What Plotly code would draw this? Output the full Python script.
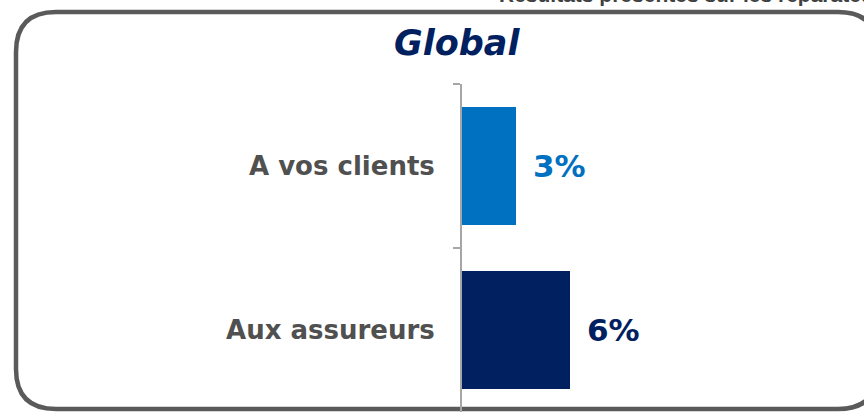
import plotly.graph_objects as go

categories = ["A vos clients", "Aux assureurs"]
values = [3, 6]
bar_colors = ["#0070C0", "#002060"]
value_labels = ["3%", "6%"]
title_text = "Global"
header_text = "Résultats présentés sur les réparateurs"

W, H = 864, 413
# plot area, window pixels
L, R, T, B = 462, 822, 84, 412


def px(x):
    return (x - L) / (R - L)


def py(y):
    return (B - y) / (B - T)


fig = go.Figure()
fig.add_trace(go.Bar(
    y=categories, x=values, orientation="h",
    marker=dict(color=bar_colors, line=dict(width=0)),
    hoverinfo="skip",
))

# value labels to the right of the bars
for cat, v, lab, col in zip(categories, values, value_labels, bar_colors):
    fig.add_annotation(x=v, y=cat, xref="x", yref="y", text=lab, showarrow=False,
                       xanchor="left", yanchor="middle", xshift=15,
                       font=dict(family="DejaVu Sans", size=31, color=col, weight="bold"))

# rounded frame; its right side lies just past the page edge
x0, x1, y0, y1, r = 16, 878, 12, 409, 40
path = (f"M {px(x1)},{py(y0 + r)} Q {px(x1)},{py(y0)} {px(x1 - r)},{py(y0)} "
        f"L {px(x0 + r)},{py(y0)} Q {px(x0)},{py(y0)} {px(x0)},{py(y0 + r)} "
        f"L {px(x0)},{py(y1 - r)} Q {px(x0)},{py(y1)} {px(x0 + r)},{py(y1)} "
        f"L {px(x1 - r)},{py(y1)} Q {px(x1)},{py(y1)} {px(x1)},{py(y1 - r)}")
fig.add_shape(type="path", path=path, xref="paper", yref="paper",
              line=dict(color="#5a5a5a", width=4.5), layer="below")

fig.add_annotation(x=px(457), y=py(43), xref="paper", yref="paper", text=f"<i>{title_text}</i>",
                   showarrow=False, xanchor="center", yanchor="middle",
                   font=dict(family="DejaVu Sans", size=35, color="#002060", weight="bold"))

# header line, only its lower half shows at the top of the page
fig.add_annotation(x=px(497), y=py(8), xref="paper", yref="paper", text=header_text,
                   showarrow=False, xanchor="left", yanchor="bottom",
                   font=dict(family="Liberation Sans", size=21, color="#404040", weight="bold"))

fig.update_layout(
    width=W, height=H,
    margin=dict(l=L, r=W - R, t=T, b=H - B),
    paper_bgcolor="white", plot_bgcolor="white",
    bargap=0.28, showlegend=False,
)
fig.update_xaxes(range=[0, 20], visible=False)
fig.update_yaxes(
    autorange="reversed", showline=True, linecolor="#a6a6a6", linewidth=2,
    ticks="outside", tickson="boundaries", ticklen=7, tickcolor="#a6a6a6", tickwidth=2,
    ticklabelstandoff=20, showgrid=False,
    tickfont=dict(family="DejaVu Sans", size=26, color="#505050", weight="bold"),
)

fig.write_html("out.html", config={"displayModeBar": False},
               post_script="document.body.style.margin='0';document.body.style.overflow='hidden';")
